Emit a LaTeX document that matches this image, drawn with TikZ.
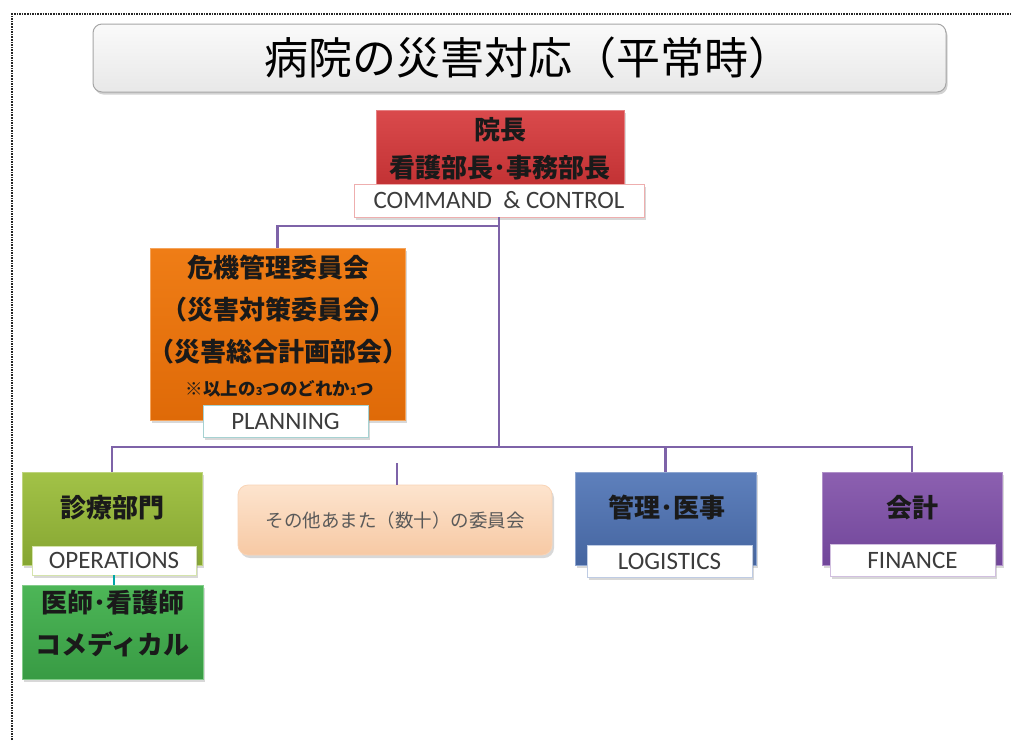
\documentclass[tikz,border=0pt]{standalone}
\usepackage{fontspec}
\setmainfont{Carlito}
\newfontfamily\jp{Noto Sans CJK JP}
\usetikzlibrary{shadows}
\definecolor{linec}{HTML}{7E63A8}
\definecolor{redT}{HTML}{DA4A4C}\definecolor{redB}{HTML}{BE2E30}
\definecolor{orT}{HTML}{EF7D16}\definecolor{orB}{HTML}{DF6A08}
\definecolor{g1T}{HTML}{A2C247}\definecolor{g1B}{HTML}{86A632}
\definecolor{g2T}{HTML}{4DB657}\definecolor{g2B}{HTML}{389B44}
\definecolor{peT}{HTML}{FDE4CE}\definecolor{peB}{HTML}{F7C9A4}
\definecolor{blT}{HTML}{5E80BC}\definecolor{blB}{HTML}{4565A0}
\definecolor{puT}{HTML}{8C60B0}\definecolor{puB}{HTML}{71469A}
\definecolor{txt}{HTML}{1A1A1A}
\tikzset{
  box/.style={rectangle, inner sep=0pt, shading=axis, draw=white!70!gray, line width=0.8pt,
    drop shadow={shadow xshift=2pt, shadow yshift=-3pt, opacity=0.3}},
  lbl/.style={rectangle, inner sep=0pt, fill=white, line width=0.9pt, text=txt!85,
    font=\fontsize{25}{28}\selectfont,
    drop shadow={shadow xshift=1.5pt, shadow yshift=-2.5pt, opacity=0.3}},
  jpb/.style={font=\jp\bfseries\fontsize{26}{28}\selectfont, text=txt, align=center, inner sep=0pt},
  conn/.style={draw=linec, line width=2.4pt}
}
\begin{document}
\begin{tikzpicture}[x=1pt,y=-1pt]
\useasboundingbox (0,0) rectangle (1012,740);
\fill[white] (0,0) rectangle (1012,740);
\draw[densely dotted, line width=1.6pt, black!85] (12,740) -- (12,14) -- (1012,14);

% title
\node[rectangle, rounded corners=9pt, minimum width=853pt, minimum height=68pt, inner sep=0pt,
  top color=white!96!gray, bottom color=white!82!gray, draw=gray!70, line width=1pt,
  drop shadow={shadow xshift=1.5pt, shadow yshift=-2.5pt, opacity=0.35}] (title) at (519.5,58) {};
\node[font=\jp\fontsize{44}{46}\selectfont, text=black, inner sep=0pt] (titletxt) at (528,58) {病院の災害対応（平常時）};

% connectors
\coordinate (j1) at (499,226);
\coordinate (bus) at (499,447);
\coordinate (ps) at (397,463);

% red box
\node[box, top color=redT, bottom color=redB, draw=redT!70!white, minimum width=248pt, minimum height=87pt] (red) at (500,153.5) {};
\node[jpb] (redtxt) at (500,149) {院長\\[10pt]看護部長･事務部長};
\node[lbl, draw=redT!45!white, minimum width=290pt, minimum height=33pt] (cmd) at (499,200.5) {COMMAND\ \ \& CONTROL};

% orange
\node[box, top color=orT, bottom color=orB, draw=orT!70!white, minimum width=255pt, minimum height=172pt] (orange) at (277.5,334) {};
\node[jpb] (ortxt) at (278,310) {危機管理委員会\\[14pt]（災害対策委員会）\\[14pt]（災害総合計画部会）};
\node[font=\jp\bfseries\fontsize{17.5}{19}\selectfont, text=txt, inner sep=0pt] (note) at (280,389) {※以上の{\fontsize{11}{11}\selectfont 3}つのどれか{\fontsize{11}{11}\selectfont 1}つ};
\node[lbl, draw=teal!35!white, minimum width=165pt, minimum height=32pt] (plan) at (285.5,421) {PLANNING};

% green 1
\node[box, top color=g1T, bottom color=g1B, draw=g1T!70!white, minimum width=180pt, minimum height=93pt] (green1) at (112,518.5) {};
\node[jpb] (g1txt) at (112,508) {診療部門};
\node[lbl, draw=g1T!45!white, minimum width=164pt, minimum height=29pt] (ops) at (114,560.5) {OPERATIONS};

% green 2
\node[box, top color=g2T, bottom color=g2B, draw=g2T!70!white, minimum width=181pt, minimum height=94pt] (green2) at (112.5,632) {};
\node[jpb] (g2txt) at (112.5,624) {医師･看護師\\[14pt]コメディカル};

% peach
\node[box, rounded corners=10pt, top color=peT, bottom color=peB, draw=peB!80!white, minimum width=314pt, minimum height=70pt,
  font=\jp\fontsize{18.5}{20}\selectfont, text=black!65] (peach) at (395,520) {その他あまた（数十）の委員会};

% blue
\node[box, top color=blT, bottom color=blB, draw=blT!70!white, minimum width=181pt, minimum height=93pt] (blue) at (665.5,518.5) {};
\node[jpb] (bltxt) at (667,508) {管理･医事};
\node[lbl, draw=blT!40!white, minimum width=165pt, minimum height=32pt] (log) at (669.5,561) {LOGISTICS};

% purple
\node[box, top color=puT, bottom color=puB, draw=puT!70!white, minimum width=180pt, minimum height=93pt] (purple) at (912,518.5) {};
\node[jpb] (putxt) at (912,508) {会計};
\node[lbl, draw=puT!40!white, minimum width=165pt, minimum height=32pt] (fin) at (912.5,560) {FINANCE};

% lines
\draw[conn] (cmd.south) -- (bus);
\draw[conn] (j1) -| (orange.north);
\draw[conn] (green1.north) -- (green1.north |- bus) -- (purple.north |- bus) -- (purple.north);
\draw[conn] (blue.north) -- (blue.north |- bus);
\draw[conn] (ps) -- (ps |- peach.north);
\draw[draw=teal!70!cyan, line width=1.4pt] (ops.south) -- (ops.south |- green2.north);
\end{tikzpicture}
\end{document}
